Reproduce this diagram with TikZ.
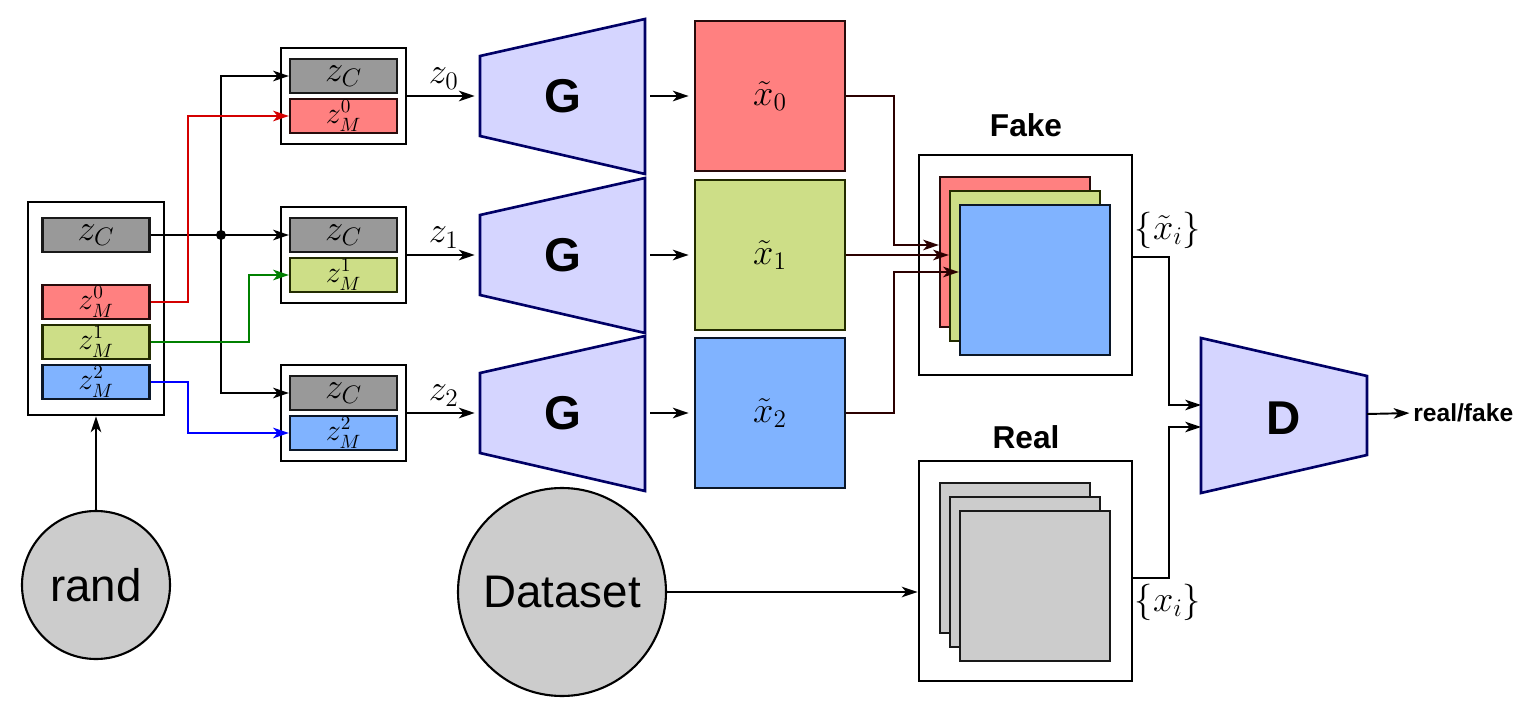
\documentclass[tikz,border=0pt]{standalone}
\usepackage{amsmath}
\usepackage{fontspec}
\setmainfont{Liberation Sans}
\usepackage{xcolor}
\usetikzlibrary{arrows.meta,calc}

\newlength\px
\setlength\px{0.02cm}
\newcommand\mathsize{\fontsize{20}{24}\selectfont}
\newcommand\zmsize{\fontsize{16}{18}\selectfont}

\definecolor{genfill}{HTML}{D5D5FF}
\definecolor{gendraw}{HTML}{000066}
\definecolor{redfill}{HTML}{FF8080}
\definecolor{reddraw}{HTML}{280B0B}
\definecolor{greenfill}{HTML}{CDDE87}
\definecolor{greendraw}{HTML}{222B00}
\definecolor{bluefill}{HTML}{80B3FF}
\definecolor{bluedraw}{HTML}{0B1728}
\definecolor{grayfill}{HTML}{999999}
\definecolor{lightfill}{HTML}{CCCCCC}
\definecolor{fakeline}{HTML}{2B0000}
\definecolor{redline}{HTML}{D40000}
\definecolor{greenline}{HTML}{008000}
\definecolor{blueline}{HTML}{0000FF}

\begin{document}
\begin{tikzpicture}[
    x = 0.02cm, y = -0.02cm,
    >={Stealth[length=9pt, width=6pt, inset=2.5pt]},
    every node/.style = {inner sep=0pt},
    % Named styles
    frame/.style    = {draw, line width=1.6pt, fill=white},
    zbox/.style     = {draw, line width=1.2pt, minimum width=107\px,
                       minimum height=34\px, font=\mathsize},
    zmbox/.style    = {zbox, font=\zmsize},
    graybox/.style  = {fill=grayfill, draw=black!90},
    redbox/.style   = {fill=redfill, draw=reddraw},
    greenbox/.style = {fill=greenfill, draw=greendraw},
    bluebox/.style  = {fill=bluefill, draw=bluedraw},
    lightbox/.style = {fill=lightfill, draw=black!90},
    imgbox/.style   = {draw, line width=1.2pt, minimum size=150\px, font=\mathsize},
    source/.style   = {circle, draw, line width=1.2pt, fill=lightfill,
                       font=\fontsize{26}{30}\selectfont},
    network/.style  = {fill=genfill, draw=gendraw, line width=1.5pt},
    nettext/.style  = {font=\fontsize{27}{30}\selectfont\bfseries},
    title/.style    = {font=\fontsize{18}{22}\selectfont\bfseries},
    mathlbl/.style  = {font=\mathsize},
    link/.style     = {->, line width=1.1pt},
    fakelink/.style = {->, line width=1.1pt, draw=fakeline},
]

% ── Frame of the picture (1 unit = 1 px) ──────────────────────────────────────
\useasboundingbox (0,0) rectangle (1535,709);

% ── Random latent code ────────────────────────────────────────────────────────
\node[frame, minimum width=136\px, minimum height=213\px] (lat) at (96,308.5) {};
\node[zbox, graybox]   (zc)   at (96,235) {$z_C$};
\node[zmbox, redbox]   (zml0) at (96,302) {$z_M^0$};
\node[zmbox, greenbox] (zml1) at (96,342) {$z_M^1$};
\node[zmbox, bluebox]  (zml2) at (96,382) {$z_M^2$};

\node[source, minimum size=148\px] (rand) at (96,585) {rand};
\draw[link] (rand) -- (lat);

% junction of the shared part
\node[circle, fill, minimum size=10\px] (jn) at (221,235) {};

% ── Three generator branches ──────────────────────────────────────────────────
\foreach \i/\y/\col in {0/96/redbox, 1/255/greenbox, 2/413/bluebox} {
    \node[frame, minimum width=125\px, minimum height=96\px] (box\i) at (343.5,\y) {};
    \node[zbox, graybox] (zc\i) at (343.5,\y-20) {$z_C$};
    \node[zmbox, \col]   (zm\i) at (343.5,\y+20) {$z_M^{\i}$};

    % generator G
    \draw[network] (480,\y-40) -- (645,\y-77) -- (645,\y+78) -- (480,\y+40) -- cycle;
    \node[nettext] (g\i) at (563,\y) {G};
    \coordinate (gin\i)  at (480,\y);
    \coordinate (gout\i) at (645,\y);

    % generated image
    \node[imgbox, \col] (img\i) at (770,\y) {$\tilde{x}_{\i}$};

    \draw[link, shorten >=3pt] (box\i.east) -- (gin\i)
        node[midway, above=6\px, mathlbl] (zl\i) {$z_{\i}$};
    \draw[link, shorten <=3pt, shorten >=3pt] (gout\i) -- (img\i.west);
}

% shared code z_C to every branch
\draw[line width=1.1pt] (zc.east) -- (jn.center);
\draw[link] (jn.center) |- (zc0.west);
\draw[link] (jn.center) -- (zc1.west);
\draw[link] (jn.center) |- (zc2.west);

% private codes z_M
\draw[link, redline]   (zml0.east) -- ++(37,0) |- (zm0.west);
\draw[link, greenline] (zml1.east) -- ++(98,0) |- (zm1.west);
\draw[link, blueline]  (zml2.east) -- ++(37,0) |- (zm2.west);

% ── Fake set ──────────────────────────────────────────────────────────────────
\node[frame, minimum width=213\px, minimum height=220\px] (fake) at (1025.5,265) {};
\node[title] (faketitle) at (1026,125) {Fake};
\node[imgbox, redbox]   (fk0) at (1015,252) {};
\node[imgbox, greenbox] (fk1) at (1025,266) {};
\node[imgbox, bluebox]  (fk2) at (1035,280) {};

\draw[fakelink] (img0.east) -- ++(48,0) |- ($(fk0.west)+(0,-7)$);
\draw[fakelink] (img1.east) -- (img1.east -| fk1.west);
\draw[fakelink] (img2.east) -- ++(48,0) |- ($(fk2.west)+(0,-8)$);

% ── Real set ──────────────────────────────────────────────────────────────────
\node[frame, minimum width=213\px, minimum height=220\px] (real) at (1025.5,571) {};
\node[title] (realtitle) at (1026,437) {Real};
\node[imgbox, lightbox] (rl0) at (1015,558) {};
\node[imgbox, lightbox] (rl1) at (1025,572) {};
\node[imgbox, lightbox] (rl2) at (1035,586) {};

\node[source, minimum size=208\px] (ds) at (562,592) {Dataset};
\draw[link] (ds.east) -- (ds.east -| real.west);

% ── Discriminator ─────────────────────────────────────────────────────────────
\draw[network] (1201,338) -- (1367,376) -- (1367,455) -- (1201,493) -- cycle;
\node[nettext] (d) at (1284,418) {D};
\coordinate (din)  at (1201,416);
\coordinate (dout) at (1367,414);

\draw[link] ($(fake.east)+(0,-8)$) -- ++(36,0) |- ($(din)+(0,-11)$);
\draw[link] ($(real.east)+(0,7)$)  -- ++(36,0) |- ($(din)+(0,11)$);
\node[mathlbl] (fakeset) at (1168,230) {$\{\tilde{x}_i\}$};
\node[mathlbl] (realset) at (1168,602) {$\{x_i\}$};

\node[anchor=west, font=\fontsize{14}{16}\selectfont\bfseries] (out) at (1413,413) {real/fake};
\draw[link, shorten >=2pt] (dout) -- (out.west);

\end{tikzpicture}
\end{document}
